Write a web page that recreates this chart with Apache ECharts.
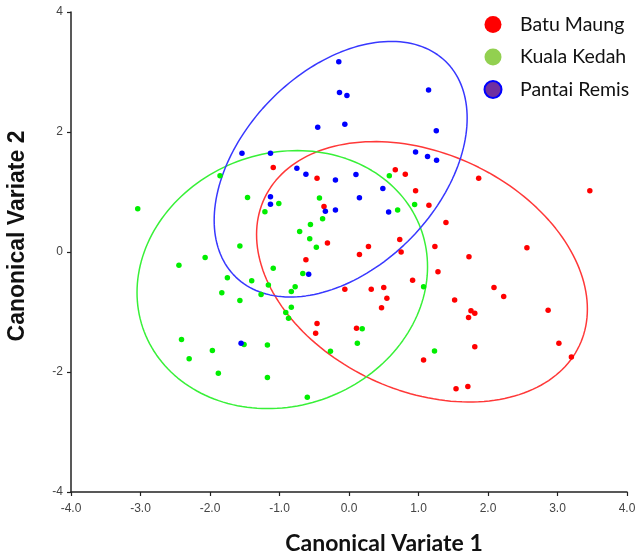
<!DOCTYPE html>
<html>
<head>
<meta charset="utf-8">
<script src="https://cdn.jsdelivr.net/npm/echarts@6/dist/echarts.min.js"></script>
<style>html,body{margin:0;padding:0;background:#fff}#c{width:641px;height:558px}</style>
</head>
<body>
<div id="c"></div>
<script>
const seriesNames = ['Batu Maung', 'Kuala Kedah', 'Pantai Remis'];
const xTicks = [-4, -3, -2, -1, 0, 1, 2, 3, 4];
const yTicks = [-4, -2, 0, 2, 4];

const batuMaung = [
  [-1.09, 1.41], [-0.46, 1.23], [-0.36, 0.76], [-0.31, 0.15], [-0.62, -0.13],
  [0.15, -0.04], [0.666, 1.37], [0.81, 1.295], [1.866, 1.23], [3.465, 1.02],
  [0.958, 1.02], [1.15, 0.78], [1.395, 0.49], [0.73, 0.21], [0.28, 0.09],
  [1.236, 0.09], [0.75, 0.0], [1.726, -0.08], [2.56, 0.07], [1.28, -0.33],
  [0.915, -0.47], [2.086, -0.59], [2.226, -0.74], [-0.06, -0.62], [0.32, -0.62],
  [0.50, -0.59], [0.545, -0.77], [0.468, -0.93], [1.52, -0.80], [1.755, -0.98],
  [1.81, -1.02], [1.72, -1.09], [2.865, -0.97], [0.108, -1.27], [3.02, -1.52],
  [1.81, -1.58], [1.073, -1.80], [3.20, -1.75], [1.54, -2.28], [1.71, -2.24],
  [-0.46, -1.19], [-0.48, -1.355]
];
const kualaKedah = [
  [-1.856, 1.27], [-1.46, 0.91], [-1.01, 0.81], [-1.21, 0.67], [-3.04, 0.72],
  [-0.425, 0.90], [-0.38, 0.555], [-0.555, 0.46], [-0.71, 0.34], [-0.565, 0.22],
  [-0.47, 0.08], [-1.57, 0.10], [-2.07, -0.09], [0.58, 1.27], [0.944, 0.79],
  [0.70, 0.70], [1.073, -0.58], [0.19, -1.28], [0.12, -1.52], [1.23, -1.65],
  [-2.447, -0.22], [-1.09, -0.27], [-0.665, -0.36], [-1.75, -0.43], [-1.40, -0.48],
  [-1.16, -0.55], [-0.775, -0.58], [-0.83, -0.66], [-1.83, -0.68], [-1.265, -0.71],
  [-1.57, -0.81], [-0.83, -0.92], [-0.91, -1.01], [-0.87, -1.105], [-0.267, -1.655],
  [-2.41, -1.46], [-1.51, -1.54], [-1.174, -1.55], [-1.966, -1.64], [-2.30, -1.78],
  [-1.88, -2.02], [-1.174, -2.09], [-0.60, -2.42]
];
const pantaiRemis = [
  [-0.147, 3.17], [-0.137, 2.66], [-0.03, 2.61], [-0.45, 2.08], [-0.06, 2.13],
  [-1.54, 1.645], [-1.13, 1.645], [-0.75, 1.395], [-0.62, 1.295], [-0.195, 1.2],
  [0.10, 1.29], [-1.13, 0.92], [-1.13, 0.795], [-0.34, 0.68], [-0.195, 0.70],
  [0.15, 0.905], [1.145, 2.70], [1.256, 2.02], [0.958, 1.667], [1.13, 1.59],
  [1.26, 1.53], [0.487, 1.06], [0.57, 0.667], [-0.58, -0.37], [-1.553, -1.52]
];

// confidence ellipses: centre, half-extent in x and y, correlation
const ellipseCenterX = [1.05, -0.96, -0.12];
const ellipseCenterY = [-0.33, -0.46, 1.38];
const ellipseHalfX = [2.38, 2.09, 1.82];
const ellipseHalfY = [2.17, 2.15, 2.13];
const ellipseCorr = [-0.286, 0.10, 0.40];

const pointColors = ['#ff0000', '#00ee00', '#0000ff'];
const ellipseColors = ['#ff3838', '#38f038', '#3838ff'];

function ellipsePath(i) {
  const pts = [];
  const n = 180;
  const r = ellipseCorr[i];
  const s = Math.sqrt(1 - r * r);
  for (let k = 0; k <= n; k++) {
    const t = 2 * Math.PI * k / n;
    pts.push([
      ellipseCenterX[i] + ellipseHalfX[i] * Math.cos(t),
      ellipseCenterY[i] + ellipseHalfY[i] * (r * Math.cos(t) + s * Math.sin(t))
    ]);
  }
  return pts;
}

const chart = echarts.init(document.getElementById('c'), null, { renderer: 'canvas' });
const groups = [batuMaung, kualaKedah, pantaiRemis];

const series = [];
groups.forEach((g, i) => {
  series.push({
    type: 'line', name: seriesNames[i] + ' ellipse', data: ellipsePath(i),
    showSymbol: false, smooth: false, silent: true,
    lineStyle: { color: ellipseColors[i], width: 1.5 }, z: 1
  });
});
groups.forEach((g, i) => {
  series.push({
    type: 'scatter', name: seriesNames[i], data: g, symbolSize: 5.5,
    itemStyle: { color: pointColors[i], opacity: 1 }, z: 3
  });
});

chart.setOption({
  animation: false,
  backgroundColor: '#fff',
  grid: { left: 71, right: 14, top: 12, bottom: 66, containLabel: false },
  xAxis: {
    type: 'value', min: -4, max: 4, interval: 1,
    axisLine: { show: true, onZero: false, lineStyle: { color: '#222', width: 1.5 } },
    axisTick: { show: true, length: 4, inside: false, lineStyle: { color: '#222', width: 1.2 } },
    axisLabel: { color: '#444', fontSize: 12, fontFamily: 'Liberation Sans, Arial', margin: 11,
      formatter: v => xTicks.includes(v) ? v.toFixed(1) : '' },
    splitLine: { show: false }
  },
  yAxis: {
    type: 'value', min: -4, max: 4, interval: 2,
    axisLine: { show: true, onZero: false, lineStyle: { color: '#222', width: 1.5 } },
    axisTick: { show: true, length: 4, inside: false, lineStyle: { color: '#222', width: 1.2 } },
    axisLabel: { color: '#444', fontSize: 12, fontFamily: 'Liberation Sans, Arial', margin: 8,
      formatter: v => yTicks.includes(v) ? String(v) : '' },
    splitLine: { show: false }
  },
  legend: {
    orient: 'vertical', left: 483.5, top: 14.5, padding: 0,
    itemWidth: 17, itemHeight: 17, itemGap: 12.5,
    icon: 'circle',
    textStyle: { fontSize: 19.5, fontFamily: 'Lato, "Open Sans", sans-serif', color: '#111', padding: [0, 0, 0, 13.5] },
    data: [
      { name: 'Batu Maung', itemStyle: { color: '#ff0000', borderWidth: 0 } },
      { name: 'Kuala Kedah', itemStyle: { color: '#92d050', borderWidth: 0 } },
      { name: 'Pantai Remis', itemStyle: { color: '#7030a0', borderColor: '#0000ff', borderWidth: 2 } }
    ],
    selectedMode: false
  },
  graphic: [
    { type: 'text', x: 384, y: 544,
      style: { text: 'Canonical Variate 1', font: 'bold 23px Lato, "Open Sans", sans-serif', fill: '#111',
        align: 'center', verticalAlign: 'middle' } },
    { type: 'text', x: 18, y: 236, rotation: Math.PI / 2,
      style: { text: 'Canonical Variate 2', font: 'bold 23px "Liberation Sans", Arial, sans-serif', fill: '#111',
        align: 'center', verticalAlign: 'middle' } }
  ],
  series: series
});
</script>
</body>
</html>
